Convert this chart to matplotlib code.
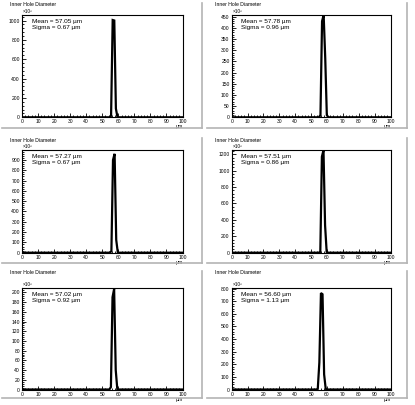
import numpy as np
import matplotlib
matplotlib.use("Agg")
import matplotlib.pyplot as plt
from matplotlib.lines import Line2D
from matplotlib.ticker import MultipleLocator, AutoMinorLocator

plt.rcParams["font.family"] = ["Liberation Sans", "DejaVu Sans"]

# histogram polylines (diameter in um, counts in units of 1e3)
diam_1 = [0, 54.5, 55.5, 56.5, 57.5, 58.5, 59.5, 100]
count_1 = [0, 0, 15, 1005, 1000, 90, 0, 0]
diam_2 = [0, 54.9, 55.9, 56.9, 57.9, 58.9, 59.9, 60.9, 100]
count_2 = [0, 0, 10, 430, 458, 265, 10, 0, 0]
diam_3 = [0, 54.7, 55.7, 56.7, 57.7, 58.7, 59.7, 100]
count_3 = [0, 0, 15, 900, 960, 125, 0, 0]
diam_4 = [0, 54.8, 55.8, 56.8, 57.8, 58.8, 59.8, 60.8, 100]
count_4 = [0, 0, 10, 1170, 1250, 335, 10, 0, 0]
diam_5 = [0, 54.4, 55.4, 56.4, 57.4, 58.4, 59.4, 100]
count_5 = [0, 0, 5, 190, 207, 40, 0, 0]
diam_6 = [0, 53.2, 54.2, 55.2, 56.2, 57.2, 58.2, 59.2, 60.2, 100]
count_6 = [0, 0, 5, 215, 765, 755, 120, 5, 0, 0]

means = [57.05, 57.78, 57.27, 57.51, 57.02, 56.60]
sigmas = [0.67, 0.96, 0.67, 0.86, 0.92, 1.13]
y_max = [1057, 458, 997, 1252, 209, 805]
y_step = [200, 50, 100, 200, 20, 100]

diams = [diam_1, diam_2, diam_3, diam_4, diam_5, diam_6]
counts = [count_1, count_2, count_3, count_4, count_5, count_6]

W, H = 415, 405
fig = plt.figure(figsize=(W / 100, H / 100), dpi=100)
fig.patch.set_facecolor("white")

# frame geometry in pixels
col_lr = [(22, 182.5), (231.7, 390.5)]
row_tb = [(15, 117.3), (150, 252.7), (288, 389.5)]
pad_x = [(0, 202), (205, 407)]
pad_y = [(0, 128), (135, 263), (268, 398)]

for i in range(6):
    r, c = divmod(i, 2)
    l, rt = col_lr[c]
    t, b = row_tb[r]
    ax = fig.add_axes([l / W, 1 - b / H, (rt - l) / W, (b - t) / H])
    ax.plot(diams[i], counts[i], color="black", lw=1.6, solid_joinstyle="miter")
    ax.set_xlim(0, 100)
    ax.set_ylim(0, y_max[i])
    ax.xaxis.set_major_locator(MultipleLocator(10))
    ax.xaxis.set_minor_locator(AutoMinorLocator(5))
    ax.yaxis.set_major_locator(MultipleLocator(y_step[i]))
    ax.yaxis.set_minor_locator(AutoMinorLocator(5))
    ax.tick_params(which="both", direction="in", labelsize=3.6, pad=1.5, width=0.6)
    ax.tick_params(which="major", length=3)
    ax.tick_params(which="minor", length=1.5)
    for s in ax.spines.values():
        s.set_linewidth(0.8)
    ax.text(0.005, 1.005, "×10³", transform=ax.transAxes,
            fontsize=3.4, ha="left", va="bottom")
    ax.text(1.0, -0.07, "µm", transform=ax.transAxes, fontsize=3.6,
            ha="right", va="top")
    ax.text(0.06, 0.96, f"Mean = {means[i]:.2f} µm\nSigma = {sigmas[i]:.2f} µm",
            transform=ax.transAxes, fontsize=4.6, ha="left", va="top",
            linespacing=1.25)

    # pad title and grey border
    px0, px1 = pad_x[c]
    py0, py1 = pad_y[r]
    fig.text((px0 + 10) / W, 1 - (py0 + 5) / H, "Inner Hole Diameter",
             fontsize=3.7, ha="left", va="center")
    fig.add_artist(Line2D([px1 / W, px1 / W], [1 - (py0 + 3) / H, 1 - py1 / H],
                          color="#b4b4b4", lw=1.2))
    fig.add_artist(Line2D([(px0 + 2) / W, px1 / W], [1 - py1 / H, 1 - py1 / H],
                          color="#b4b4b4", lw=1.2))

fig.savefig("out.png", dpi=100)
